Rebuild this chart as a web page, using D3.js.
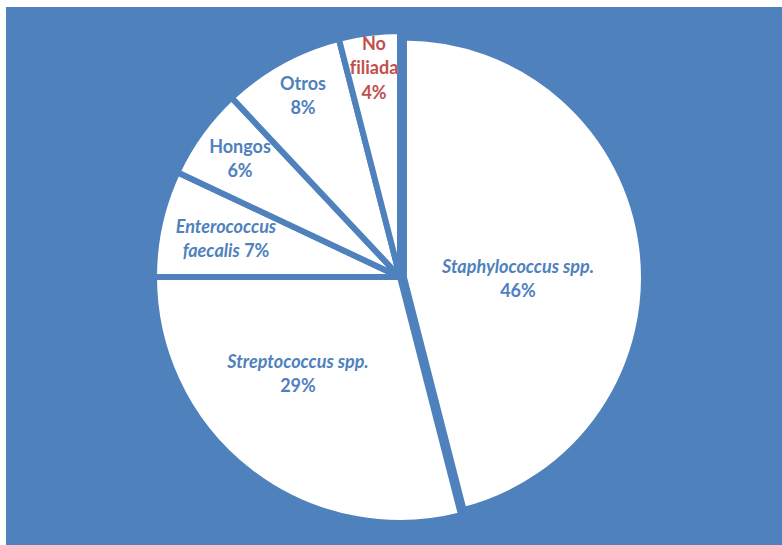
<!DOCTYPE html>
<html>
<head>
<meta charset="utf-8">
<script src="https://cdn.jsdelivr.net/npm/d3@7"></script>
<style>
  body { margin: 0; background: #ffffff; }
  svg { display: block; }
  text { font-variant-ligatures: none; }
</style>
</head>
<body>
<svg id="chart" width="782" height="545"></svg>
<script>
// Origin of bacteremia isolates, share of cases (%)
const categories = ["Staphylococcus spp.", "Streptococcus spp.", "Enterococcus faecalis", "Hongos", "Otros", "No filiada"];
const shares = [46, 29, 7, 6, 8, 4];

// How each category name is broken over lines, and whether it is set in italics
const nameLines = [["Staphylococcus spp."], ["Streptococcus spp."], ["Enterococcus", "faecalis"], ["Hongos"], ["Otros"], ["No", "filiada"]];
const italicNames = [true, true, true, false, false, false];
// Percentage written on the same line as the last name line
const pctInline = [false, false, true, false, false, false];

// Layout
const W = 782, H = 545;
const BG = "#4F81BD";
const TEXT_BLUE = "#4F81BD";
const TEXT_RED = "#C0504D";
const center = [400, 277];
const radius = 246;
const explodedIndex = 0;     // the largest slice is pulled out a little
const explodeBy = 4;
const explodedRadius = 240;
const sliceStroke = 6;
// Label anchor: centre x and first baseline y of each text block
const labelAnchors = [[518, 273], [298, 368], [226, 233], [240, 153], [303, 90], [374, 50]];
const lineGap = 24.4;
const labelColors = [TEXT_BLUE, TEXT_BLUE, TEXT_BLUE, TEXT_BLUE, TEXT_BLUE, TEXT_RED];

const svg = d3.select("#chart");

svg.append("rect")
  .attr("x", 6).attr("y", 7)
  .attr("width", W - 6).attr("height", H - 7)
  .attr("fill", BG);

const data = categories.map((c, i) => ({ name: c, value: shares[i], i }));

const pie = d3.pie()
  .value(d => d.value)
  .sort(null)
  .startAngle(0)
  .endAngle(2 * Math.PI);

const arcs = pie(data);

const arcMain = d3.arc().innerRadius(0).outerRadius(radius);
const arcExploded = d3.arc().innerRadius(0).outerRadius(explodedRadius);

const g = svg.append("g").attr("transform", `translate(${center[0]},${center[1]})`);

g.selectAll("path.slice")
  .data(arcs)
  .join("path")
  .attr("class", "slice")
  .attr("transform", d => {
    if (d.data.i !== explodedIndex) return null;
    const mid = (d.startAngle + d.endAngle) / 2;
    return `translate(${explodeBy * Math.sin(mid)},${-explodeBy * Math.cos(mid) + 1})`;
  })
  .attr("d", d => d.data.i === explodedIndex ? arcExploded(d) : arcMain(d))
  .attr("fill", "#ffffff")
  .attr("stroke", BG)
  .attr("stroke-width", sliceStroke)
  .attr("stroke-linejoin", "round");

// Data labels
const labels = svg.append("g")
  .attr("font-family", "Lato, 'Open Sans', sans-serif")
  .attr("font-weight", "bold")
  .attr("font-size", 18)
  .attr("text-anchor", "middle");

data.forEach((d, i) => {
  const [x, y] = labelAnchors[i];
  const t = labels.append("text")
    .attr("x", x).attr("y", y)
    .attr("fill", labelColors[i]);
  const lines = nameLines[i];
  lines.forEach((ln, k) => {
    t.append("tspan")
      .attr("x", x)
      .attr("dy", k === 0 ? 0 : lineGap)
      .attr("font-style", italicNames[i] ? "italic" : "normal")
      .text(ln);
    if (k === lines.length - 1 && pctInline[i]) {
      t.append("tspan").attr("font-style", "normal").text(` ${d.value}%`);
    }
  });
  if (!pctInline[i]) {
    t.append("tspan")
      .attr("x", x)
      .attr("dy", lineGap)
      .attr("font-style", "normal")
      .text(`${d.value}%`);
  }
});
</script>
</body>
</html>
